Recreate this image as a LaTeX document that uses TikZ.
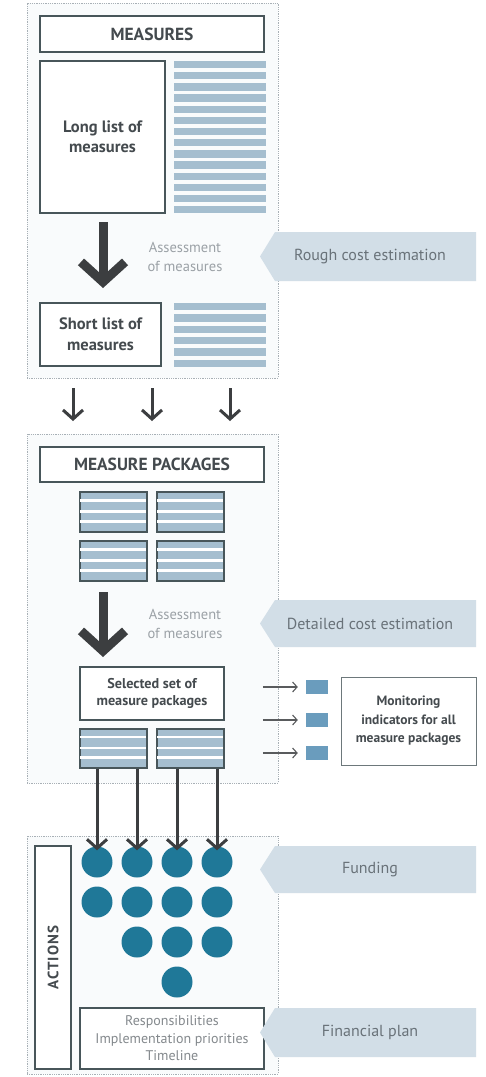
\documentclass[tikz,border=0pt]{standalone}
\usepackage{fontspec}
\setmainfont{PT Sans}
\usetikzlibrary{arrows.meta}
\definecolor{stripe}{RGB}{165,190,207}
\definecolor{boxline}{RGB}{72,86,90}
\definecolor{callfill}{RGB}{210,222,231}
\definecolor{frameline}{RGB}{168,176,182}
\definecolor{framefill}{RGB}{249,251,252}
\definecolor{txtdark}{RGB}{68,74,78}
\definecolor{txtlight}{RGB}{155,161,166}
\definecolor{calltxt}{RGB}{105,114,121}
\definecolor{arrowdark}{RGB}{60,62,64}
\definecolor{dotblue}{RGB}{31,120,152}
\definecolor{sqblue}{RGB}{106,156,189}
\tikzset{
  outerframe/.style={draw=frameline, densely dotted, line width=0.8pt, fill=framefill, inner sep=0pt},
  boxnode/.style={draw=boxline, line width=1.6pt, fill=white, inner sep=0pt, text=txtdark, align=center},
  pkgnode/.style={draw=boxline, line width=1.4pt, fill=stripe, inner sep=0pt, minimum width=67pt, minimum height=40pt},
  bigarrow/.style={draw=arrowdark, line width=9pt, -{Straight Barb[length=20pt, width=44pt]}},
  medarrow/.style={draw=arrowdark, line width=3pt, -{Straight Barb[length=9pt, width=20pt]}},
  thinarrow/.style={draw=arrowdark!85, line width=1.1pt, -{Straight Barb[length=4.5pt, width=10pt]}},
  calloutfill/.style={fill=callfill},
  calltext/.style={text=calltxt, font=\fontsize{16}{19}\selectfont},
  assesstext/.style={text=txtlight, align=center, font=\fontsize{14.5}{19}\selectfont},
  dot/.style={circle, fill=dotblue, minimum size=31pt, inner sep=0pt},
  sq/.style={fill=sqblue, minimum width=22pt, minimum height=14pt, inner sep=0pt}
}
\begin{document}
\begin{tikzpicture}[x=1pt,y=-1pt]
\useasboundingbox[fill=white] (0,0) rectangle (485,1077);

% outer frames
\node[outerframe, minimum width=251pt, minimum height=375pt] (f1) at (152.5,190.5) {};
\node[outerframe, minimum width=251pt, minimum height=349pt] (f2) at (152.5,608.5) {};
\node[outerframe, minimum width=251pt, minimum height=238pt] (f3) at (152.5,955) {};

% ---------- section 1 ----------
\node[boxnode, minimum width=224pt, minimum height=36pt, font=\bfseries\fontsize{17.5}{20}\selectfont] (measures) at (152,34) {MEASURES};
\node[boxnode, minimum width=125pt, minimum height=152pt, font=\bfseries\fontsize{16.5}{20}\selectfont] (long) at (102.5,137) {Long list of\\measures};
\foreach \i in {0,...,13}{
  \fill[stripe] (174,{61+\i*11.15}) rectangle (266,{68.3+\i*11.15});
}
\coordinate (a1s) at (103,222);
\coordinate (a1e) at (103,288);
\draw[bigarrow] (a1s) -- (a1e);
\node[assesstext] (as1) at (185,257) {Assessment\\of measures};
\fill[calloutfill] (260,256.5) -- (275,232) -- (476,232) -- (476,281) -- (275,281) -- cycle;
\node[calltext] (rough) at (370,256.5) {Rough cost estimation};

\node[boxnode, minimum width=121pt, minimum height=63pt, font=\bfseries\fontsize{16.5}{21}\selectfont] (short) at (100.5,334.5) {Short list of\\measures};
\foreach \i in {0,...,5}{
  \fill[stripe] (174,{303+\i*11.3}) rectangle (266,{310.3+\i*11.3});
}

% arrows between sections
\foreach \x/\n in {73/a,152/b,230/c}{
  \coordinate (s\n) at (\x,388);
  \coordinate (e\n) at (\x,421);
  \draw[medarrow] (s\n) -- (e\n);
}

% ---------- section 2 ----------
\node[boxnode, minimum width=224pt, minimum height=35pt, font=\bfseries\fontsize{17.5}{20}\selectfont] (mp) at (152,464.5) {MEASURE PACKAGES};
\node[pkgnode] (p1) at (113.5,512) {};
\node[pkgnode] (p2) at (190.5,512) {};
\node[pkgnode] (p3) at (113.5,561) {};
\node[pkgnode] (p4) at (190.5,561) {};
\foreach \p in {p1,p2,p3,p4}{
  \foreach \f in {0.225,0.5,0.75}{
    \draw[white, line width=2.4pt] ([xshift=0.8pt]\p.north west) ++(0,{\f*40}) -- ++(65.4,0);
  }
  \draw[boxline, line width=1.4pt] (\p.north west) rectangle (\p.south east);
}
\coordinate (a2s) at (103,592);
\coordinate (a2e) at (103,657);
\draw[bigarrow] (a2s) -- (a2e);
\node[assesstext] (as2) at (185,624) {Assessment\\of measures};
\fill[calloutfill] (260,623.5) -- (275,600) -- (476,600) -- (476,647) -- (275,647) -- cycle;
\node[calltext] (detail) at (370,623.5) {Detailed cost estimation};

\node[boxnode, minimum width=144pt, minimum height=53pt, font=\bfseries\fontsize{14.2}{17}\selectfont] (sel) at (152,693.5) {Selected set of\\measure packages};
\node[pkgnode, minimum height=39pt] (p5) at (113.5,748.5) {};
\node[pkgnode, minimum height=39pt] (p6) at (190.5,748.5) {};
\foreach \p in {p5,p6}{
  \foreach \f in {0.225,0.5,0.75}{
    \draw[white, line width=2.4pt] ([xshift=0.8pt]\p.north west) ++(0,{\f*39}) -- ++(65.4,0);
  }
  \draw[boxline, line width=1.4pt] (\p.north west) rectangle (\p.south east);
}

% monitoring
\node[sq] (q1) at (317,687) {};
\node[sq] (q2) at (317,720) {};
\node[sq] (q3) at (317,753) {};
\foreach \q in {q1,q2,q3}{
  \coordinate (m\q) at ([xshift=-43pt]\q.west);
  \draw[thinarrow] (m\q) -- ([xshift=-8pt]\q.west);
}
\node[draw=boxline!80, line width=1pt, minimum width=135pt, minimum height=88pt, inner sep=0pt, align=center, text=txtdark, font=\bfseries\fontsize{13.5}{18.5}\selectfont] (mon) at (408.5,721) {Monitoring\\indicators for all\\measure packages};

% ---------- section 3 ----------
\node[boxnode, minimum width=36pt, minimum height=223pt] (act) at (53,957.5) {};
\node[rotate=90, text=txtdark, font=\bfseries\fontsize{15}{17}\selectfont\addfontfeature{LetterSpace=8}] (acttxt) at (act.center) {ACTIONS};

\foreach \c/\x in {1/97,2/137,3/177,4/217}{
  \node[dot] (r1c\c) at (\x,862) {};
  \node[dot] (r2c\c) at (\x,902) {};
}
\foreach \c/\x in {2/137,3/177,4/217}{
  \node[dot] (r3c\c) at (\x,942) {};
}
\node[dot] (r4c3) at (177,982) {};

\draw[medarrow] (p5.south -| r1c1) -- ([yshift=-4pt]r1c1.north);
\draw[medarrow] (p5.south -| r1c2) -- ([yshift=-4pt]r1c2.north);
\draw[medarrow] (p6.south -| r1c3) -- ([yshift=-4pt]r1c3.north);
\draw[medarrow] (p6.south -| r1c4) -- ([yshift=-4pt]r1c4.north);

\node[draw=boxline, line width=1.6pt, fill=white, minimum width=184pt, minimum height=61pt, inner sep=0pt, align=center, text=txtlight!85!black, font=\fontsize{14}{17.5}\selectfont] (resp) at (172,1038.5) {Responsibilities\\Implementation priorities\\Timeline};

\fill[calloutfill] (260,869.5) -- (275,846) -- (476,846) -- (476,893) -- (275,893) -- cycle;
\node[calltext] (fund) at (370,869.5) {Funding};
\fill[calloutfill] (260,1032.5) -- (275,1008) -- (476,1008) -- (476,1057) -- (275,1057) -- cycle;
\node[calltext] (fin) at (370,1032.5) {Financial plan};
\end{tikzpicture}
\end{document}
